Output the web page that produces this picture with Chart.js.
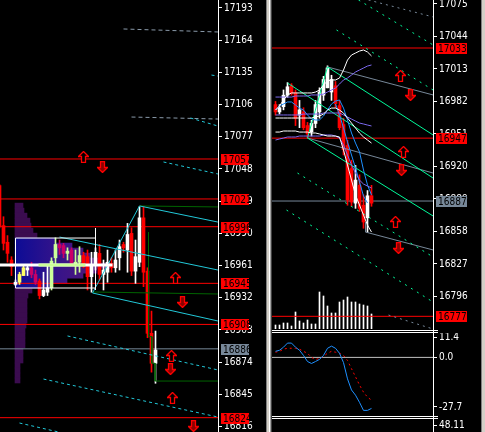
<!DOCTYPE html>
<html>
<head>
<meta charset="utf-8">
<script src="https://cdn.jsdelivr.net/npm/chart.js@4.4.0/dist/chart.umd.min.js"></script>
<style>
  html, body { margin: 0; padding: 0; background: #000; }
  #wrap { position: relative; width: 485px; height: 432px; overflow: hidden; background: #000; }
  canvas { position: absolute; }
  .ln { position: absolute; background: #fff; }
</style>
</head>
<body>
<div id="wrap">
  <canvas id="left" width="266" height="432" style="left:0;top:0"></canvas>
  <canvas id="rmain" width="213" height="329" style="left:272px;top:0"></canvas>
  <canvas id="rmacd" width="213" height="83" style="left:272px;top:333px"></canvas>
  <canvas id="rlow" width="213" height="13" style="left:272px;top:419px"></canvas>
  <div class="ln" style="left:218px;top:0;width:1px;height:432px"></div>
  <div class="ln" style="left:433px;top:0;width:1px;height:432px"></div>
  <div class="ln" style="left:272px;top:330px;width:166px;height:1px"></div>
  <div class="ln" style="left:272px;top:332px;width:166px;height:1px"></div>
  <div class="ln" style="left:272px;top:416px;width:166px;height:1px"></div>
  <div class="ln" style="left:272px;top:418px;width:166px;height:1px"></div>
  <div style="position:absolute;left:266px;top:0;width:6px;height:432px;background:linear-gradient(to right,#808080 0,#808080 1px,#d4d0c8 1px,#d4d0c8 3px,#fff 3px,#fff 4px,#a0a0a0 4px,#a0a0a0 5px,#404040 5px)"></div>
  <div style="position:absolute;left:481px;top:0;width:4px;height:432px;background:linear-gradient(to right,#808080 0,#808080 1px,#d4d0c8 1px)"></div>
</div>
<script>
// ---------------- DATA ----------------

const leftTicks = [17193, 17164, 17135, 17106, 17077, 17048, 17019, 16990, 16961, 16932, 16903, 16874, 16845, 16816];
const rightTicks = [17075, 17044, 17013, 16982, 16951, 16920, 16889, 16858, 16827, 16796];
const macdTicks = [11.4, 0, -27.7];

// left window candles, first one (index -1) is cut by the edge
const leftOpen  = [17033, 16997, 16982, 16966, 16944, 16946, 16952, 16957, 16959, 16953, 16947, 16934, 16937, 16941, 16968, 16980, 16979, 16972, 16975, 16961, 16964, 16970, 16969, 16951, 16961, 16972, 16953, 16955, 16963, 16959, 16968, 16980, 16975, 16990, 16956, 16964, 17004, 16956, 16900, 16873];
const leftHigh  = [17034, 17005, 16988, 16969, 16948, 16955, 16962, 16962, 16964, 16957, 16949, 16955, 16962, 16968, 16986, 16984, 16981, 16977, 16977, 16975, 16978, 16973, 16975, 16973, 16977, 16980, 16966, 16975, 16968, 16975, 16984, 16982, 16999, 16995, 16984, 17014, 17014, 16959, 16920, 16902];
const leftLow   = [16995, 16975, 16964, 16952, 16943, 16944, 16952, 16952, 16950, 16944, 16931, 16933, 16934, 16939, 16962, 16971, 16968, 16966, 16962, 16953, 16955, 16959, 16939, 16937, 16957, 16948, 16939, 16946, 16955, 16955, 16957, 16973, 16955, 16952, 16945, 16960, 16942, 16896, 16865, 16855];
const leftClose = [16996, 16981, 16972, 16960, 16946, 16953, 16959, 16959, 16953, 16946, 16934, 16939, 16941, 16965, 16980, 16977, 16972, 16974, 16963, 16964, 16970, 16961, 16951, 16962, 16973, 16953, 16957, 16964, 16959, 16966, 16978, 16977, 16989, 16956, 16969, 17004, 16955, 16900, 16873, 16885];
// candles seen through the value area are tinted
const leftTint = { 5: '#ffff66', 6: '#ffff66', 8: '#cc0066', 9: '#cc0066', 13: '#ccff99', 14: '#ccff99', 15: '#cc0066', 16: '#cc0066', 17: '#ccff99', 18: '#cc0066', 19: '#ccff99', 20: '#ccff99' };

const leftRedLevels = [17057, 17021, 16996, 16945, 16908, 16824];
const leftGreyLevel = 16886;

// volume profile
const profilePrice = [17015, 17010.5, 17006, 17001.5, 16997, 16992.5, 16988, 16983.5, 16979, 16974.5, 16970, 16965.5, 16961, 16956.5, 16952, 16947.5, 16943, 16938.5, 16934, 16929.5, 16925, 16920.5, 16916, 16911.5, 16907, 16902.5, 16898, 16893.5, 16889, 16884.5, 16880, 16875.5, 16871, 16866.5, 16862, 16857.5];
const profileVol = [8, 9, 12, 15, 16, 18, 22, 40, 57, 68, 75, 85, 95, 82, 68, 52, 35, 17, 13, 12, 12, 12, 12, 12, 11, 10, 10, 10, 10, 8, 8, 8, 5, 5, 5, 5];
const vaBox = [3, 16985.8, 23, 16940.8];
const pocLevel = 16961.5;

// [x0, price0, x1, price1]
const cyanSolid = [[14, 16986.7, 53.6, 16957.0], [22.25, 16936.3, 53.6, 16911.1], [34, 17014.7, 53.6, 17000.2], [22.25, 16936.3, 34, 17014.7]];
const cyanDash = [[16, 16897.6, 53.6, 16867.0], [10, 16858.8, 53.6, 16824.6], [4, 16819.2, 13.75, 16811.1], [40, 17054.3, 53.6, 17043.5], [46.75, 17093.9, 53.6, 17086.7], [52, 17132.6, 53.6, 17131.7]];
const greyDash = [[30, 17174.1, 53.6, 17171.4], [32, 17094.8, 53.6, 17093.0]];
const darkGreenA = [[34, 17014.7], [53.6, 17013.8]];
const darkGreenB = [[22.25, 16937.2], [53.6, 16935.4]];
const darkGreenC = [[36.25, 16991], [36.25, 16897], [37.1, 16897], [37.1, 16873], [37.9, 16873], [37.9, 16857], [53.6, 16857]];
const leftUp = [[20, 17058.8], [43, 16949.8], [42, 16879.5], [42.25, 16841.7]];
const leftDown = [[24.75, 17049.8], [44.75, 16928.2], [41.75, 16867.8], [47.5, 16816.5]];

// right window candles
const rightOpen  = [16979, 16972, 16977, 16988, 16997, 16990, 16969, 16972, 16959, 16953, 16961, 16972, 16988, 16995, 16991, 16997, 16978, 16960, 16940, 16918, 16885, 16902, 16883, 16871, 16892];
const rightHigh  = [16982, 16979, 16993, 17000, 16999, 16993, 16983, 16976, 16962, 16964, 16983, 16995, 17006, 17016, 17007, 17001, 16983, 16966, 16945, 16926, 16921, 16912, 16893, 16897, 16902];
const rightLow   = [16969, 16970, 16974, 16986, 16988, 16959, 16957, 16955, 16947, 16949, 16957, 16966, 16983, 16995, 16983, 16976, 16955, 16931, 16883, 16882, 16880, 16877, 16861, 16857, 16882];
const rightClose = [16972, 16976, 16988, 16996, 16990, 16966, 16974, 16957, 16951, 16961, 16979, 16991, 17003, 17014, 17003, 16980, 16957, 16936, 16888, 16886, 16907, 16880, 16867, 16892, 16885];
const rightVolume = [40, 40, 60, 60, 30, 170, 80, 60, 90, 50, 50, 370, 330, 230, 160, 160, 270, 290, 320, 270, 270, 250, 240, 230, 150];

const bandUpper = [16973.8, 16977.7, 16983.4, 16988.2, 16990.1, 16990.1, 16990.1, 16990.1, 16990.1, 16990.1, 16991.0, 16992.9, 16997.7, 17001.5, 17002.5, 17002.5, 17004.4, 17012.0, 17021.5, 17026.3, 17028.2, 17030.1, 17031.1, 17029.2, 17025.4];
const bandMid = [16966.2, 16966.2, 16966.2, 16966.2, 16966.2, 16966.2, 16966.2, 16966.2, 16966.2, 16966.2, 16967.2, 16968.1, 16970.0, 16973.8, 16975.7, 16975.7, 16973.8, 16971.0, 16966.2, 16961.4, 16956.7, 16951.9, 16948.1, 16945.2, 16942.3];
const bandLower = [16952.8, 16952.8, 16953.8, 16953.8, 16953.8, 16953.8, 16952.8, 16952.8, 16952.8, 16951.9, 16951.9, 16951.0, 16950.0, 16949.0, 16949.0, 16949.0, 16948.1, 16935.7, 16921.4, 16907.0, 16892.7, 16883.2, 16873.6, 16864.1, 16857.4];
const blueFast = [16973.8, 16977.7, 16979.6, 16981.5, 16981.5, 16978.6, 16975.7, 16973.8, 16969.1, 16965.2, 16964.3, 16964.3, 16968.1, 16973.8, 16979.6, 16982.4, 16983.4, 16975.7, 16964.3, 16951.9, 16942.3, 16933.8, 16916.6, 16902.3, 16892.7];
const blueSteep = [16979.6, 16969.1, 16956.7, 16943.3, 16930.9, 16918.5, 16905.1, 16891.8, 16885.1]; // from index 15
const purpleUpper = [16986.2, 16986.2, 16986.2, 16986.2, 16986.2, 16987.2, 16987.2, 16987.2, 16987.2, 16988.2, 16988.2, 16988.2, 16989.1, 16991.0, 16992.9, 16994.8, 16998.6, 17002.5, 17004.4, 17007.2, 17010.1, 17012.0, 17013.9, 17015.8, 17016.8];
const purpleMid = [16969.1, 16969.1, 16969.1, 16969.1, 16969.1, 16969.1, 16969.1, 16970.0, 16970.0, 16970.0, 16970.0, 16970.0, 16971.0, 16971.0, 16971.0, 16971.0, 16971.0, 16969.1, 16967.2, 16965.2, 16963.3, 16961.4, 16960.5, 16959.5, 16958.6];
const purpleLower = [16945.2, 16946.2, 16947.1, 16948.1, 16948.1, 16948.1, 16949.0, 16949.0, 16949.0, 16949.0, 16949.0, 16949.0, 16950.0, 16950.0, 16950.0, 16949.0, 16947.1, 16940.4, 16930.9, 16921.4, 16913.7, 16907.0, 16903.2, 16901.3, 16899.4];

const rightRedLevels = [17033, 16947, 16777];
const rightGreyLevel = 16887;

const greenSolid = [[13, 17014.9, 39.4, 16950.0], [3, 16999.6, 39.4, 16908.9], [8, 16947.1, 39.4, 16872.7], [8, 16947.1, 13, 17014.9]];
const greenDot = [[20.75, 17078.8, 39.4, 17035.9], [15.25, 17050.2, 39.4, 16992.9], [5.5, 16913.7, 39.4, 16833.6], [2.75, 16878.4, 39.4, 16790.6]];
const slateSolid = [[13, 17014.9, 39.4, 16988.2], [8, 16947.1, 39.4, 16913.7]];
const slateStep = [[22.5, 16867.0], [22.5, 16857.4], [39.4, 16840.3]];
const slateDot = [[23.25, 17078.8, 39.4, 17062.6], [28.25, 16778.2, 39.4, 16764.9]];
const rightUp = [[31.25, 17006.3], [32, 16933.8], [30, 16867]];
const rightDown = [[33.75, 16988.2], [31.5, 16916.6], [30.75, 16842.2]];

const macdMain = [3.4, 4.0, 5.7, 8.0, 8.0, 5.7, 4.0, 1.1, -2.3, -3.4, -2.3, -1.1, 1.1, 5.1, 6.3, 5.1, 2.3, -2.9, -12.0, -18.2, -21.1, -25.1, -29.6, -29.6, -28.5];
const macdSignal = [2.9, 3.4, 4.6, 5.1, 5.1, 5.1, 4.6, 3.4, 2.3, 0.0, -1.1, -0.6, 0.6, 2.3, 3.4, 2.9, 2.3, 1.1, -1.7, -6.3, -10.8, -15.4, -19.4, -22.2, -23.9];

// ---------------- HELPERS ----------------

const FONT = { family: '"Liberation Sans Narrow", "DejaVu Sans Condensed", "Liberation Sans", sans-serif', size: 10 };
const RED = '#ff0000';
const SLATE = '#778899';
const CYAN = '#22c8d8';
const GREEN = '#00fa9a';

Chart.defaults.animation = false;
Chart.defaults.font = FONT;
Chart.defaults.layout.autoPadding = false;

function seg(s, color, dash, order) {
  return {
    type: 'line', xAxisID: 'x', yAxisID: 'y', data: [{ x: s[0], y: s[1] }, { x: s[2], y: s[3] }],
    borderColor: color, borderWidth: 1, borderDash: dash || [], pointRadius: 0, order: order || 2
  };
}

function poly(pts, color, width, order) {
  return {
    type: 'line', xAxisID: 'x', yAxisID: 'y', data: pts.map(p => ({ x: p[0], y: p[1] })),
    borderColor: color, borderWidth: width || 1, pointRadius: 0, order: order || 2
  };
}

function series(values, start, color, dash) {
  return {
    type: 'line', xAxisID: 'x', yAxisID: 'y', data: values.map((v, k) => ({ x: k + start, y: v })),
    borderColor: color, borderWidth: 1, borderDash: dash || [], pointRadius: 0, order: 2
  };
}

function makeArrow(up) {
  const c = document.createElement('canvas');
  c.width = 11; c.height = 12;
  const g = c.getContext('2d');
  g.beginPath();
  if (up) {
    g.moveTo(5.5, 0.5); g.lineTo(10.5, 5.5); g.lineTo(7.5, 5.5); g.lineTo(7.5, 11.5);
    g.lineTo(3.5, 11.5); g.lineTo(3.5, 5.5); g.lineTo(0.5, 5.5);
  } else {
    g.moveTo(5.5, 11.5); g.lineTo(10.5, 6.5); g.lineTo(7.5, 6.5); g.lineTo(7.5, 0.5);
    g.lineTo(3.5, 0.5); g.lineTo(3.5, 6.5); g.lineTo(0.5, 6.5);
  }
  g.closePath();
  g.fillStyle = up ? '#000000' : '#8b0000';
  g.fill();
  g.strokeStyle = RED; g.lineWidth = 1.3; g.stroke();
  return c;
}
const upImg = makeArrow(true);
const downImg = makeArrow(false);

function arrows(pts, img) {
  return {
    type: 'line', xAxisID: 'x', yAxisID: 'y', showLine: false, data: pts.map(p => ({ x: p[0], y: p[1] })),
    pointStyle: img, pointRadius: 6, order: 1
  };
}

function candles(open, high, low, close, start, tint) {
  const col = open.map((o, k) => (tint && tint[k]) || (close[k] >= o ? '#ffffff' : RED));
  return [
    {
      type: 'bar', xAxisID: 'x', yAxisID: 'y', data: low.map((l, k) => ({ x: k + start, y: [l, high[k]] })),
      backgroundColor: col, barThickness: 1, grouped: false, order: 4
    },
    {
      type: 'bar', xAxisID: 'x', yAxisID: 'y', data: open.map((o, k) => ({ x: k + start, y: [o, close[k]] })),
      backgroundColor: col, barThickness: 3, grouped: false, order: 3
    }
  ];
}

function levels(list, x0, x1, color) {
  return list.map(v => seg([x0, v, x1, v], color, [], 5));
}

// price boxes on the axis
const priceBoxes = {
  id: 'priceBoxes',
  afterDraw(chart, args, opts) {
    const s = chart.scales.y;
    const ctx = chart.ctx;
    ctx.save();
    ctx.font = '10px ' + FONT.family;
    ctx.textBaseline = 'middle';
    (opts.boxes || []).forEach(b => {
      const y = Math.round(s.getPixelForValue(b.v));
      ctx.fillStyle = b.bg;
      ctx.fillRect(s.left + opts.dx, y - 5, opts.w, 11);
      ctx.fillStyle = '#000';
      ctx.fillText(String(b.v), s.left + opts.dx + 2, y + 1);
    });
    ctx.restore();
  }
};

function priceAxis(min, max, ticks, width, fmt) {
  return {
    type: 'linear', position: 'right', min: min, max: max, offset: false,
    afterBuildTicks: s => { s.ticks = ticks.map(v => ({ value: v })); },
    afterFit: s => { s.width = width; s.paddingTop = 0; s.paddingBottom = 0; },
    grid: { drawOnChartArea: false, color: '#fff', tickLength: 4, offset: false },
    border: { color: '#fff' },
    ticks: { color: '#fff', padding: 2, autoSkip: false, callback: fmt || (v => String(v)) }
  };
}

// ---------------- LEFT WINDOW ----------------

const LX0 = -0.875, LX1 = 53.625;

const profileDs = {
  type: 'bar', indexAxis: 'y', xAxisID: 'xv', yAxisID: 'y',
  data: profileVol.map((v, k) => ({ x: v, y: profilePrice[k] })),
  barThickness: 5, grouped: false, order: 10,
  backgroundColor: c => {
    const p = profilePrice[c.dataIndex];
    if (p > vaBox[1] || p < vaBox[3]) return '#3b0c4f';
    const xs = c.chart.scales.xv;
    if (!xs) return '#2a1080';
    const g = c.chart.ctx.createLinearGradient(xs.getPixelForValue(0), 0, xs.getPixelForValue(95), 0);
    g.addColorStop(0, '#0c0c96');
    g.addColorStop(0.5, '#3a1488');
    g.addColorStop(1, '#5a1a70');
    return g;
  }
};

new Chart(document.getElementById('left'), {
  type: 'bar',
  data: {
    datasets: [
      profileDs,
      ...levels(leftRedLevels, LX0, LX1, RED),
      seg([LX0, leftGreyLevel, LX1, leftGreyLevel], SLATE, [], 5),
      ...candles(leftOpen, leftHigh, leftLow, leftClose, -1, leftTint),
      poly([[vaBox[0], vaBox[1]], [vaBox[2], vaBox[1]], [vaBox[2], vaBox[3]], [vaBox[0], vaBox[3]], [vaBox[0], vaBox[1]]], '#ffffff'),
      seg([vaBox[2], 16994.8, vaBox[2], 16939], '#ffffff'),
      poly([[LX0, pocLevel], [27.25, pocLevel]], '#ffffff', 3),
      poly([[8.75, pocLevel], [20.5, pocLevel]], '#ccff99', 3, 1.5),
      ...cyanSolid.map(s => seg(s, CYAN)),
      ...cyanDash.map(s => seg(s, CYAN, [3, 3])),
      ...greyDash.map(s => seg(s, '#8a9aaa', [4, 3])),
      poly(darkGreenA, '#006400'),
      poly(darkGreenB, '#006400'),
      poly(darkGreenC, '#006400'),
      arrows(leftUp, upImg),
      arrows(leftDown, downImg)
    ]
  },
  options: {
    responsive: false,
    layout: { padding: 0, autoPadding: false },
    plugins: {
      legend: { display: false }, tooltip: { enabled: false },
      priceBoxes: {
        dx: 3, w: 28,
        boxes: leftRedLevels.map(v => ({ v: v, bg: RED })).concat([{ v: leftGreyLevel, bg: SLATE }])
      }
    },
    scales: {
      x: { type: 'linear', display: false, min: LX0, max: LX1, offset: false },
      y: priceAxis(16811.1, 17200.2, leftTicks, 48),
      xv: { type: 'linear', display: false, min: -15, max: 203, offset: false }
    }
  },
  plugins: [priceBoxes]
});

// ---------------- RIGHT WINDOW ----------------

const RX0 = -0.875, RX1 = 39.375;

new Chart(document.getElementById('rmain'), {
  type: 'bar',
  data: {
    datasets: [
      {
        type: 'bar', xAxisID: 'x', yAxisID: 'yv', data: rightVolume.map((v, k) => ({ x: k, y: v })),
        backgroundColor: '#ffffff', barThickness: 1, grouped: false, order: 6
      },
      ...levels(rightRedLevels, RX0, RX1, RED),
      seg([RX0, rightGreyLevel, RX1, rightGreyLevel], SLATE, [], 5),
      ...candles(rightOpen, rightHigh, rightLow, rightClose, 0),
      series(bandUpper, 0, '#ffffff'),
      series(bandMid, 0, '#ffffff'),
      series(bandLower, 0, '#ffffff'),
      series(purpleUpper, 0, '#7b68ee'),
      series(purpleMid, 0, '#7b68ee'),
      series(purpleLower, 0, '#7b68ee'),
      series(blueFast, 0, '#1e90ff'),
      series(blueSteep, 15, '#1e90ff'),
      ...greenSolid.map(s => seg(s, GREEN)),
      ...greenDot.map(s => seg(s, GREEN, [2, 5])),
      ...slateSolid.map(s => seg(s, SLATE)),
      poly(slateStep, SLATE),
      ...slateDot.map(s => seg(s, SLATE, [2, 4])),
      arrows(rightUp, upImg),
      arrows(rightDown, downImg)
    ]
  },
  options: {
    responsive: false,
    layout: { padding: 0, autoPadding: false },
    plugins: {
      legend: { display: false }, tooltip: { enabled: false },
      priceBoxes: {
        dx: 3, w: 31,
        boxes: rightRedLevels.map(v => ({ v: v, bg: RED })).concat([{ v: rightGreyLevel, bg: SLATE }])
      }
    },
    scales: {
      x: { type: 'linear', display: false, min: RX0, max: RX1, offset: false },
      y: priceAxis(16764.9, 17078.8, rightTicks, 52),
      yv: { type: 'linear', display: false, min: 0, max: 3290, offset: false }
    }
  },
  plugins: [priceBoxes]
});

new Chart(document.getElementById('rmacd'), {
  type: 'line',
  data: {
    datasets: [
      seg([RX0, 0, RX1, 0], '#c0c0c0', [], 5),
      series(macdMain, 0, '#1e90ff'),
      series(macdSignal, 0, RED, [2, 3])
    ]
  },
  options: {
    responsive: false,
    layout: { padding: { top: 4, bottom: 4 }, autoPadding: false },
    plugins: { legend: { display: false }, tooltip: { enabled: false } },
    scales: {
      x: { type: 'linear', display: false, min: RX0, max: RX1 },
      y: priceAxis(-30.5, 11.4, macdTicks, 52, v => v.toFixed(1))
    }
  }
});

new Chart(document.getElementById('rlow'), {
  type: 'line',
  data: { datasets: [{ data: [] }] },
  options: {
    responsive: false,
    layout: { padding: { top: 6 }, autoPadding: false },
    plugins: { legend: { display: false }, tooltip: { enabled: false } },
    scales: {
      x: { type: 'linear', display: false, min: RX0, max: RX1 },
      y: priceAxis(0, 48.11, [48.11], 52, v => v.toFixed(2))
    }
  }
});
</script>
</body>
</html>
